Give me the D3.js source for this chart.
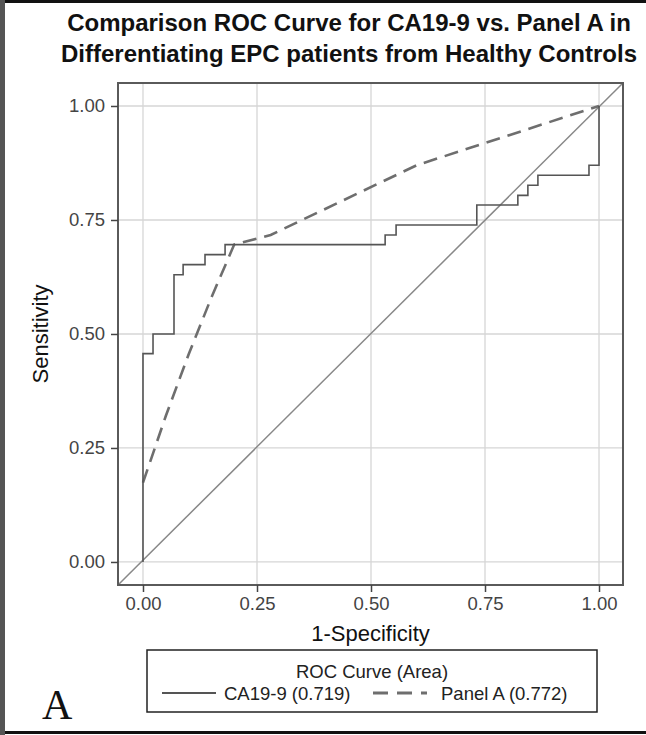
<!DOCTYPE html>
<html>
<head>
<meta charset="utf-8">
<script src="https://cdn.jsdelivr.net/npm/d3@7"></script>
<style>
  body { margin: 0; background: #fff; }
  svg text { font-family: "Liberation Sans", Arial, sans-serif; }
</style>
</head>
<body>
<div id="main"></div>
<script>

const w = 646;
const h = 735;

const titleLines = ["Comparison ROC Curve for CA19-9 vs. Panel A in",
    "Differentiating EPC patients from Healthy Controls"];
const tickValues = [0, 0.25, 0.5, 0.75, 1];

// CA19-9 step curve (1-specificity, sensitivity)
const caFpr  = [0, 0, 0.022, 0.022, 0.068, 0.068, 0.088, 0.088, 0.136, 0.136, 0.18, 0.18,
    0.531, 0.531, 0.555, 0.555, 0.732, 0.732, 0.822, 0.822, 0.844, 0.844, 0.866, 0.866,
    0.978, 0.978, 1.0, 1.0];
const caSens = [0, 0.457, 0.457, 0.5, 0.5, 0.63, 0.63, 0.652, 0.652, 0.674, 0.674, 0.696,
    0.696, 0.717, 0.717, 0.739, 0.739, 0.783, 0.783, 0.804, 0.804, 0.826, 0.826, 0.848,
    0.848, 0.870, 0.870, 1.0];

// Panel A curve
const paFpr  = [0, 0.05, 0.1, 0.15, 0.2, 0.28, 0.6, 1.0];
const paSens = [0.174, 0.32, 0.455, 0.58, 0.696, 0.717, 0.87, 1.0];

const legendTitle = "ROC Curve (Area)";
const seriesNames = ["CA19-9 (0.719)", "Panel A (0.772)"];

const svg = d3.select("#main").append("svg").attr("width", w).attr("height", h);

// outer border of the figure
svg.append("rect").attr("x", 0).attr("y", 0).attr("width", w).attr("height", h).style("fill", "#fff");
svg.append("line").attr("x1", 0).attr("x2", w).attr("y1", 1.5).attr("y2", 1.5)
    .style("stroke", "#111").style("stroke-width", 3);
svg.append("line").attr("x1", 0).attr("x2", w).attr("y1", 732.5).attr("y2", 732.5)
    .style("stroke", "#111").style("stroke-width", 3);
svg.append("line").attr("x1", 2.5).attr("x2", 2.5).attr("y1", 0).attr("y2", h)
    .style("stroke", "#555").style("stroke-width", 5);

const pLeft = 118, pRight = 623, pTop = 83, pBottom = 585;

var xScale = d3.scaleLinear().domain([-0.0548, 1.0526]).range([pLeft, pRight]);
var yScale = d3.scaleLinear().domain([-0.0505, 1.0504]).range([pBottom, pTop]);

// gridlines
svg.append("g").selectAll("line.gx").data(tickValues).enter().append("line")
    .attr("x1", d => xScale(d)).attr("x2", d => xScale(d))
    .attr("y1", pTop).attr("y2", pBottom)
    .style("stroke", "#d6d6d6").style("stroke-width", 1.3);
svg.append("g").selectAll("line.gy").data(tickValues).enter().append("line")
    .attr("y1", d => yScale(d)).attr("y2", d => yScale(d))
    .attr("x1", pLeft).attr("x2", pRight)
    .style("stroke", "#d6d6d6").style("stroke-width", 1.3);

// diagonal reference
svg.append("line")
    .attr("x1", xScale(-0.0548)).attr("y1", yScale(-0.0505))
    .attr("x2", xScale(1.0526)).attr("y2", yScale(1.0504))
    .style("stroke", "#888").style("stroke-width", 1.5);

const line = d3.line().x(d => xScale(d[0])).y(d => yScale(d[1]));

svg.append("path")
    .datum(paFpr.map((f, i) => [f, paSens[i]]))
    .attr("d", line)
    .style("fill", "none").style("stroke", "#6e6e6e").style("stroke-width", 2.6)
    .style("stroke-dasharray", "14,8");

svg.append("path")
    .datum(caFpr.map((f, i) => [f, caSens[i]]))
    .attr("d", line)
    .style("fill", "none").style("stroke", "#555").style("stroke-width", 1.6);

// frame
svg.append("rect").attr("x", pLeft).attr("y", pTop)
    .attr("width", pRight - pLeft).attr("height", pBottom - pTop)
    .style("fill", "none").style("stroke", "#5a5a5a").style("stroke-width", 2);

// axes
const xAxis = d3.axisBottom(xScale).tickValues(tickValues).tickFormat(d3.format(".2f"))
    .tickSizeOuter(0).tickSizeInner(7).tickPadding(6);
const yAxis = d3.axisLeft(yScale).tickValues(tickValues).tickFormat(d3.format(".2f"))
    .tickSizeOuter(0).tickSizeInner(7).tickPadding(6);

const gx = svg.append("g").attr("transform", "translate(0," + pBottom + ")").call(xAxis);
const gy = svg.append("g").attr("transform", "translate(" + pLeft + ",0)").call(yAxis);
[gx, gy].forEach(g => {
    g.select(".domain").remove();
    g.selectAll("line").style("stroke", "#444").style("stroke-width", 1.5);
    g.selectAll("text").style("font-size", "18.5px").style("fill", "#444")
        .style("font-family", "'Liberation Sans', Arial, sans-serif");
});
gx.selectAll("text").attr("dy", "0.66em");

// titles
svg.selectAll("text.title").data(titleLines).enter().append("text")
    .attr("x", 349).attr("y", (d, i) => 31 + i * 31)
    .style("text-anchor", "middle").style("font-weight", "bold").style("font-size", "24px")
    .style("fill", "#111")
    .text(d => d);

svg.append("text")
    .attr("x", (pLeft + pRight) / 2).attr("y", 641)
    .style("text-anchor", "middle").style("font-size", "22px").style("fill", "#111")
    .text("1-Specificity");

svg.append("text")
    .attr("transform", "translate(48," + ((pTop + pBottom) / 2) + ") rotate(-90)")
    .style("text-anchor", "middle").style("font-size", "22px").style("fill", "#111")
    .text("Sensitivity");

// legend
svg.append("rect").attr("x", 147).attr("y", 650).attr("width", 450).attr("height", 62)
    .style("fill", "#fff").style("stroke", "#222").style("stroke-width", 1.5);
svg.append("text").attr("x", 372).attr("y", 678)
    .style("text-anchor", "middle").style("font-size", "18.5px").style("fill", "#222")
    .text(legendTitle);

const legendItems = [
    {name: seriesNames[0], x: 162, dash: null, color: "#555", sw: 2},
    {name: seriesNames[1], x: 373, dash: "15,9", color: "#6e6e6e", sw: 3}
];
const lg = svg.selectAll("g.leg").data(legendItems).enter().append("g");
lg.append("line")
    .attr("x1", d => d.x).attr("x2", d => d.x + 54).attr("y1", 693).attr("y2", 693)
    .style("stroke", d => d.color).style("stroke-width", d => d.sw)
    .style("stroke-dasharray", d => d.dash);
lg.append("text")
    .attr("x", (d, i) => i === 0 ? 224 : 441).attr("y", 700)
    .style("font-size", "18.5px").style("fill", "#222")
    .text(d => d.name);

// panel letter
svg.append("text").attr("x", 42).attr("y", 719)
    .style("font-family", "'Liberation Serif', 'Times New Roman', serif")
    .style("font-size", "42px").style("fill", "#111")
    .text("A");

</script>
</body>
</html>
